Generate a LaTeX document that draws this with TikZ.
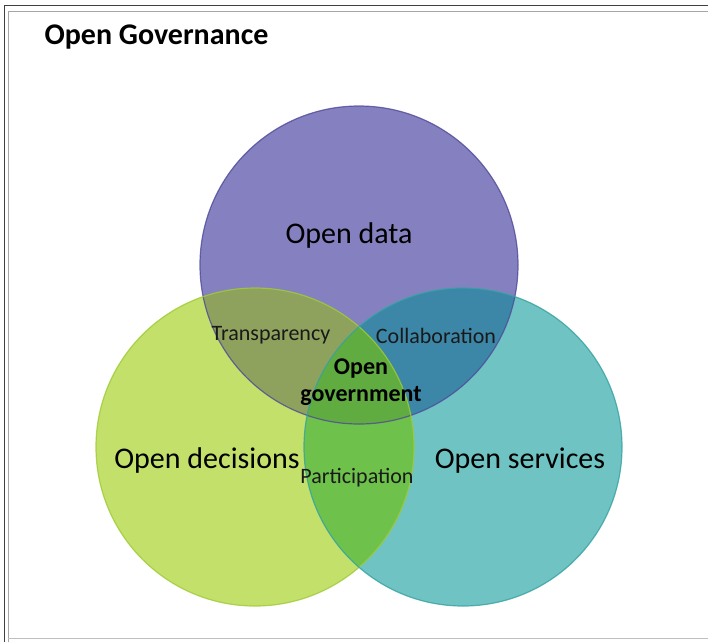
\documentclass[tikz,border=0pt]{standalone}
\usepackage{fontspec}
\setmainfont{Carlito}
\definecolor{pfill}{HTML}{8581C0}
\definecolor{pline}{HTML}{4F4A98}
\definecolor{gfill}{HTML}{C3E06B}
\definecolor{gline}{HTML}{9ECB35}
\definecolor{tfill}{HTML}{70C3C3}
\definecolor{tline}{HTML}{34A2A2}
\definecolor{pgfillc}{HTML}{8EA25E}
\definecolor{ptfillc}{HTML}{3C87A8}
\definecolor{gtfillc}{HTML}{6EC24C}
\definecolor{cfill}{HTML}{60AC40}
\begin{document}
\begin{tikzpicture}[x=1pt,y=-1pt,
  big/.style={font=\fontsize{30}{34}\selectfont, text=black},
  small/.style={font=\fontsize{22}{24}\selectfont, text=black!90},
  ttl/.style={font=\bfseries\fontsize{30}{32}\selectfont, anchor=west},
  ring/.style={line width=1.2pt}]
\useasboundingbox (0,0) rectangle (708,641);
\fill[white] (0,0) rectangle (708,641);
% frame
\draw[black!75, line width=1.5pt] (4.5,645) -- (4.5,5.5) -- (712,5.5);
\draw[black!35, line width=1pt] (8.5,645) -- (8.5,11.5) -- (712,11.5);
\draw[black!25, line width=1pt] (8,638.5) -- (712,638.5);
% circles
\coordinate (P) at (359,265);
\coordinate (G) at (255,447);
\coordinate (T) at (463,447);
\def\R{159}
\fill[pfill] (P) circle (\R);
\fill[gfill] (G) circle (\R);
\fill[tfill] (T) circle (\R);
\begin{scope}
  \clip (P) circle (\R);
  \fill[pgfillc] (G) circle (\R);
  \fill[ptfillc] (T) circle (\R);
\end{scope}
\begin{scope}
  \clip (G) circle (\R);
  \fill[gtfillc] (T) circle (\R);
  \clip (P) circle (\R);
  \fill[cfill] (T) circle (\R);
\end{scope}
\draw[ring, pline, draw opacity=0.8] (P) circle (\R);
\draw[ring, gline, draw opacity=0.8] (G) circle (\R);
\draw[ring, tline, draw opacity=0.8] (T) circle (\R);
% texts
\node[ttl] (title) at (41,37) {Open Governance};
\node[big] (data) at (349,235) {Open data};
\node[big] (dec) at (207,460) {Open decisions};
\node[big] (serv) at (520,461) {Open services};
\node[small] (trans) at (271,335) {Transparency};
\node[small] (coll) at (436,336) {Collaboration};
\node[small] (part) at (357,478) {Participation};
\node[small, font=\bfseries\fontsize{24}{27}\selectfont, align=center, text=black] (og) at (361,382) {Open\\government};
\end{tikzpicture}
\end{document}
